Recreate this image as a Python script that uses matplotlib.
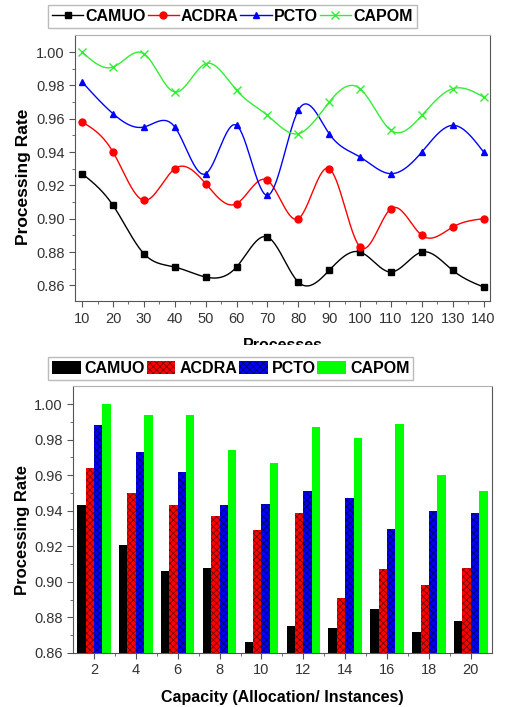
import numpy as np
import matplotlib
matplotlib.use("Agg")
import matplotlib.pyplot as plt
from matplotlib.patches import Rectangle

plt.rcParams['font.family'] = ['Liberation Sans', 'DejaVu Sans']
plt.rcParams['hatch.linewidth'] = 0.6

# ---- data: top chart (processes) ----
processes = [10, 20, 30, 40, 50, 60, 70, 80, 90, 100, 110, 120, 130, 140]
camuo_p = [0.927, 0.908, 0.879, 0.871, 0.865, 0.871, 0.889, 0.862, 0.869, 0.880, 0.868, 0.880, 0.869, 0.859]
acdra_p = [0.958, 0.940, 0.911, 0.930, 0.921, 0.909, 0.923, 0.900, 0.930, 0.883, 0.906, 0.890, 0.895, 0.900]
pcto_p = [0.982, 0.963, 0.955, 0.955, 0.927, 0.956, 0.914, 0.965, 0.951, 0.937, 0.927, 0.940, 0.956, 0.940]
capom_p = [1.000, 0.991, 0.999, 0.976, 0.993, 0.977, 0.962, 0.951, 0.970, 0.978, 0.953, 0.962, 0.978, 0.973]

# ---- data: bottom chart (capacity) ----
capacity = [2, 4, 6, 8, 10, 12, 14, 16, 18, 20]
camuo_c = [0.943, 0.921, 0.906, 0.908, 0.866, 0.875, 0.874, 0.885, 0.872, 0.878]
acdra_c = [0.964, 0.950, 0.943, 0.937, 0.929, 0.939, 0.891, 0.907, 0.898, 0.908]
pcto_c = [0.988, 0.973, 0.962, 0.943, 0.944, 0.951, 0.947, 0.930, 0.940, 0.939]
capom_c = [1.000, 0.994, 0.994, 0.974, 0.967, 0.987, 0.981, 0.989, 0.960, 0.951]

names = ['CAMUO', 'ACDRA', 'PCTO', 'CAPOM']


def spline(x, y, n=500):
    # natural cubic spline through the points (Origin-style smooth line)
    x = np.asarray(x, float)
    y = np.asarray(y, float)
    k = len(x)
    h = np.diff(x)
    A = np.zeros((k, k))
    b = np.zeros(k)
    A[0, 0] = A[-1, -1] = 1
    for i in range(1, k - 1):
        A[i, i - 1] = h[i - 1]
        A[i, i] = 2 * (h[i - 1] + h[i])
        A[i, i + 1] = h[i]
        b[i] = 6 * ((y[i + 1] - y[i]) / h[i] - (y[i] - y[i - 1]) / h[i - 1])
    M = np.linalg.solve(A, b)
    xs = np.linspace(x[0], x[-1], n)
    idx = np.clip(np.searchsorted(x, xs) - 1, 0, k - 2)
    x0, x1 = x[idx], x[idx + 1]
    hh = x1 - x0
    t1 = x1 - xs
    t0 = xs - x0
    ys = (M[idx] * t1 ** 3 + M[idx + 1] * t0 ** 3) / (6 * hh) \
        + (y[idx] / hh - M[idx] * hh / 6) * t1 \
        + (y[idx + 1] / hh - M[idx + 1] * hh / 6) * t0
    return xs, ys


def style_axes(ax):
    for s in ['left', 'bottom', 'right']:
        ax.spines[s].set_color('#555555')
    ax.spines['top'].set_color('#b0b0b0')
    ax.tick_params(which='both', direction='out', colors='#555555',
                   labelcolor='#333333', labelsize=10.5)
    ax.tick_params(which='major', length=4)
    ax.tick_params(which='minor', length=2.5)
    ax.tick_params(top=False, right=False)


fig = plt.figure(figsize=(5.07, 7.07), dpi=100)

# ---------------- top: line chart ----------------
ax1 = fig.add_axes([0.148, 0.574, 0.818, 0.376])
series = [camuo_p, acdra_p, pcto_p, capom_p]
line_colors = ['#000000', '#ff0000', '#0000ff', '#33ee33']
markers = ['s', 'o', '^', 'x']
msizes = [4.5, 5, 5, 5.5]
handles = []
for vals, c, m, ms, nm in zip(series, line_colors, markers, msizes, names):
    xs, ys = spline(processes, vals)
    ax1.plot(xs, ys, color=c, lw=1.0)
    ax1.plot(processes, vals, ls='none', marker=m, color=c, ms=ms, mew=1.0)
    h, = ax1.plot([], [], color=c, lw=1.0, marker=m, ms=ms, label=nm)
    handles.append(h)

ax1.set_xlim(7.7, 142)
ax1.set_ylim(0.8505, 1.010)
ax1.set_xticks(processes)
ax1.set_xticks(np.arange(15, 140, 10), minor=True)
ax1.set_yticks(np.arange(0.86, 1.001, 0.02))
ax1.set_yticks(np.arange(0.87, 1.001, 0.02), minor=True)
ax1.set_yticklabels([f'{v:.2f}' for v in np.arange(0.86, 1.001, 0.02)])
style_axes(ax1)
ax1.set_ylabel('Processing Rate', fontsize=12.5, fontweight='bold')
ax1.yaxis.set_label_coords(-(75 - 31) / (0.818 * 507), 1 - (176 - 35) / (0.376 * 707))

fig.legend(handles=handles, loc='upper left', bbox_to_anchor=(48 / 507, 1 - 5 / 707),
           ncol=4, frameon=True, fancybox=False, edgecolor='#aaaaaa',
           prop={'weight': 'bold', 'size': 11.5}, handlelength=1.95,
           handletextpad=0.15, columnspacing=0.1, borderpad=0.25,
           borderaxespad=0)

# x label of top chart, partly hidden by the lower panel
fig.text(283 / 507, 1 - 346 / 707, 'Processes', ha='center', va='center',
         fontsize=11.5, fontweight='bold')
fig.add_artist(Rectangle((0, 1 - 356 / 707), 1, 11 / 707, transform=fig.transFigure,
                         facecolor='white', edgecolor='none', zorder=10))

# ---------------- bottom: bar chart ----------------
ax2 = fig.add_axes([0.144, 0.0764, 0.826, 0.378])
bar_series = [camuo_c, acdra_c, pcto_c, capom_c]
bar_faces = ['#000000', '#ff0000', '#0000ff', '#00ff00']
bar_edges = ['#000000', '#7a0000', '#00006a', '#00ff00']
hatches = [None, 'xxxxx', 'xxxxx', None]
offsets = [-0.6, -0.2, 0.2, 0.6]
x = np.array(capacity, float)
bar_handles = []
for vals, fc, ec, ht, off, nm in zip(bar_series, bar_faces, bar_edges, hatches, offsets, names):
    b = ax2.bar(x + off, np.array(vals) - 0.86, bottom=0.86, width=0.4,
                color=fc, edgecolor=ec, hatch=ht, linewidth=0, label=nm)
    bar_handles.append(b)

ax2.set_xlim(1, 21)
ax2.set_ylim(0.86, 1.0103)
ax2.set_xticks(capacity)
ax2.set_xticks(np.arange(3, 21, 2), minor=True)
ax2.set_yticks(np.arange(0.86, 1.001, 0.02))
ax2.set_yticks(np.arange(0.87, 1.001, 0.02), minor=True)
ax2.set_yticklabels([f'{v:.2f}' for v in np.arange(0.86, 1.001, 0.02)])
style_axes(ax2)
ax2.set_ylabel('Processing Rate', fontsize=12, fontweight='bold')
ax2.yaxis.set_label_coords(-(73 - 30) / (0.826 * 507), 1 - (530 - 386) / (0.378 * 707))
ax2.set_xlabel('Capacity (Allocation/ Instances)', fontsize=11.5,
               fontweight='bold', labelpad=9)

fig.legend(handles=bar_handles, loc='upper left', bbox_to_anchor=(48 / 507, 1 - 357 / 707),
           ncol=4, frameon=True, fancybox=False, edgecolor='#aaaaaa',
           prop={'weight': 'bold', 'size': 11.5}, handlelength=1.8, handleheight=0.85,
           handletextpad=0.25, columnspacing=0.1, borderpad=0.25,
           borderaxespad=0)

fig.savefig('out.png', dpi=100, facecolor='white')
